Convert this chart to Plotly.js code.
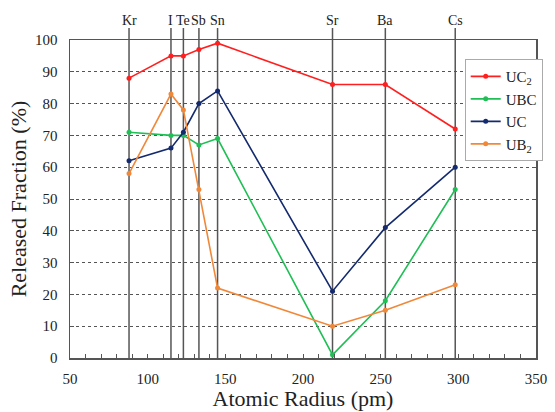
<!DOCTYPE html>
<html>
<head>
<meta charset="utf-8">
<script src="https://cdn.plot.ly/plotly-3.0.1.min.js"></script>
<style>html,body{margin:0;padding:0;background:#fff;}#chart{width:555px;height:412px;}</style>
</head>
<body>
<div id="chart"></div>
<script>
// Elements and their atomic radii (pm)
var elements = ["Kr", "I", "Te", "Sb", "Sn", "Sr", "Ba", "Cs"];
var radius = [88, 115, 123, 133, 145, 219, 253, 298];

// Released fraction (%) per target material
var uc2 = [88, 95, 95, 97, 99, 86, 86, 72];
var ubc = [71, 70, 70, 67, 69, 1, 18, 53];
var uc  = [62, 66, 71, 80, 84, 21, 41, 60];
var ub2 = [58, 83, 78, 53, 22, 10, 15, 23];

var seriesNames = ["UC<sub>2</sub>", "UBC", "UC", "UB<sub>2</sub>"];
var seriesData = [uc2, ubc, uc, ub2];
var seriesColors = ["#ff1f1f", "#1fbf55", "#142a6e", "#f0883a"];

var traces = seriesData.map(function (vals, i) {
  return {
    x: radius, y: vals, name: seriesNames[i], type: "scatter", mode: "lines+markers",
    line: {color: seriesColors[i], width: 1.6},
    marker: {color: seriesColors[i], size: 5}
  };
});

var serif = "Liberation Serif";
var topY = 1.038;

var shapes = radius.map(function (r) {
  return {type: "line", xref: "x", yref: "paper", x0: r, x1: r, y0: 0, y1: topY,
          line: {color: "#555", width: 1.5}, layer: "between"};
});
var annotations = radius.map(function (r, i) {
  return {x: r, xref: "x", y: topY, yref: "paper", yanchor: "bottom", text: elements[i],
          showarrow: false, font: {family: serif, size: 14, color: "#222"}, yshift: -2};
});

var layout = {
  width: 555, height: 412,
  margin: {l: 70, r: 14, t: 40, b: 54},
  paper_bgcolor: "#fff", plot_bgcolor: "#fff",
  font: {family: serif, color: "#222", size: 14},
  showlegend: true,
  legend: {x: 0.847, y: 0.94, xanchor: "left", yanchor: "top",
           bgcolor: "#fff", bordercolor: "#aaa", borderwidth: 1,
           font: {family: serif, size: 15, color: "#222"}, tracegroupgap: 0, itemwidth: 30},
  xaxis: {
    range: [50, 350], dtick: 50, tick0: 50,
    showgrid: false, zeroline: false,
    showline: true, mirror: true, linecolor: "#555", linewidth: 1.5,
    ticks: "inside", ticklen: 4, tickcolor: "#555",
    minor: {dtick: 10, ticks: "inside", ticklen: 4, tickcolor: "#555", showgrid: false},
    ticklabelstandoff: 6,
    tickfont: {family: serif, size: 15, color: "#222"},
    title: {text: "Atomic Radius (pm)", font: {family: serif, size: 22, color: "#222"}, standoff: 4}
  },
  yaxis: {
    range: [0, 100], dtick: 10,
    showgrid: true, gridcolor: "#555", gridwidth: 1, griddash: "3px,3px",
    zeroline: false,
    showline: true, mirror: "ticks", linecolor: "#555", linewidth: 1.5,
    ticks: "inside", ticklen: 4, tickcolor: "#555",
    ticklabelstandoff: 8,
    tickfont: {family: serif, size: 15, color: "#222"},
    title: {text: "Released Fraction (%)", font: {family: serif, size: 22, color: "#222"}, standoff: 2}
  },
  shapes: shapes,
  annotations: annotations
};

Plotly.newPlot("chart", traces, layout, {displayModeBar: false, staticPlot: true});
</script>
</body>
</html>
